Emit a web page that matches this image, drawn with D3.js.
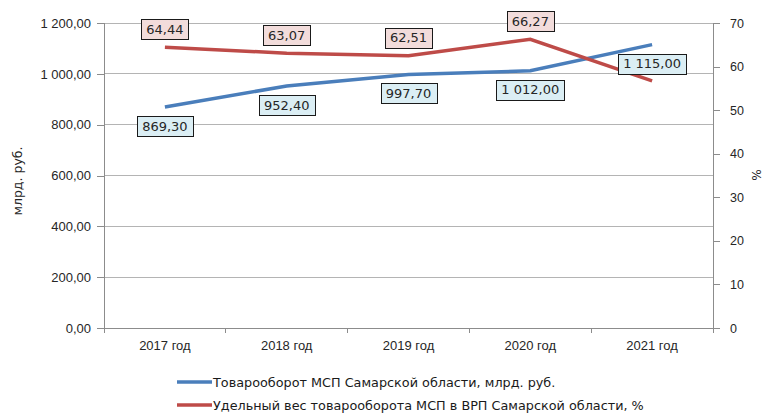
<!DOCTYPE html>
<html>
<head>
<meta charset="utf-8">
<script src="https://cdn.jsdelivr.net/npm/d3@7"></script>
<style>
  body { margin: 0; background: #fff; }
  svg { display: block; font-family: "DejaVu Sans", Verdana, sans-serif; }
</style>
</head>
<body>
<svg id="chart" width="764" height="414"></svg>
<script>
// data
const years = ["2017 год", "2018 год", "2019 год", "2020 год", "2021 год"]
const turnover = [869.30, 952.40, 997.70, 1012.00, 1115.00]
const share = [64.44, 63.07, 62.51, 66.27, 56.70]
// the 2021 share label sits under the 1 115,00 box in the original
const shareLabelShown = [true, true, true, true, false]
const leftTicks = [0, 200, 400, 600, 800, 1000, 1200]
const rightTicks = [0, 10, 20, 30, 40, 50, 60, 70]
const seriesNames = [
    "Товарооборот МСП Самарской области, млрд. руб.",
    "Удельный вес товарооборота МСП в ВРП Самарской области, %"
]

const blue = "#4a7ebb", red = "#be4b48"
const svg = d3.select("#chart")
const plotL = 104, plotR = 713, plotT = 23, plotB = 328

const ru = d3.formatLocale({ decimal: ",", thousands: " ", grouping: [3], currency: ["", ""] })
const fmt2 = ru.format(",.2f")

const x = d3.scaleBand().domain(years).range([plotL, plotR])
const yL = d3.scaleLinear().domain([0, 1200]).range([plotB, plotT])
const yR = d3.scaleLinear().domain([0, 70]).range([plotB, plotT])
const cx = (d) => x(d) + x.bandwidth() / 2

// grid
svg.append("g").selectAll("line")
    .data(leftTicks.slice(1))
    .enter().append("line")
    .attr("x1", plotL).attr("x2", plotR)
    .attr("y1", (d) => yL(d)).attr("y2", (d) => yL(d))
    .attr("stroke", "#b4b4b4").attr("stroke-width", 1)
    .attr("shape-rendering", "crispEdges")

// axes
let axL = svg.append("g").attr("transform", `translate(${plotL},0)`)
    .call(d3.axisLeft(yL).tickValues(leftTicks).tickFormat(fmt2).tickSize(7).tickPadding(6))
let axR = svg.append("g").attr("transform", `translate(${plotR},0)`)
    .call(d3.axisRight(yR).tickValues(rightTicks).tickFormat(d3.format("d")).tickSize(7).tickPadding(10))
let axX = svg.append("g").attr("transform", `translate(0,${plotB})`)
    .call(d3.axisBottom(x).tickSize(0).tickPadding(13))

axL.selectAll("text").style("font-size", "13px")
axR.selectAll("text").style("font-size", "12.5px")
axX.selectAll("text").style("font-size", "13px")
;[axL, axR, axX].forEach(function (a) {
    a.selectAll("path, line").attr("stroke", "#8c8c8c").attr("shape-rendering", "crispEdges")
    a.selectAll("text").attr("fill", "#262626")
})
axX.select(".domain").attr("d", `M${plotL},0H${plotR}`)

// category boundary ticks on x axis
svg.append("g").selectAll("line")
    .data(years.concat(["end"]))
    .enter().append("line")
    .attr("x1", (d) => d == "end" ? plotR : x(d))
    .attr("x2", (d) => d == "end" ? plotR : x(d))
    .attr("y1", plotB).attr("y2", plotB + 5)
    .attr("stroke", "#8c8c8c")
    .attr("shape-rendering", "crispEdges")

// axis titles
svg.append("text")
    .attr("transform", "translate(22,181) rotate(-90)")
    .attr("text-anchor", "middle")
    .style("font-size", "12.5px").attr("fill", "#262626")
    .text("млрд. руб.")
svg.append("text")
    .attr("transform", "translate(752,175) rotate(90)")
    .attr("text-anchor", "middle")
    .style("font-size", "12px").attr("fill", "#262626")
    .text("%")

// lines
let lineL = d3.line().x((d, i) => cx(years[i])).y((d) => yL(d))
let lineR = d3.line().x((d, i) => cx(years[i])).y((d) => yR(d))

svg.append("path").datum(turnover)
    .attr("d", lineL).attr("fill", "none")
    .attr("stroke", blue).attr("stroke-width", 3.5)
svg.append("path").datum(share)
    .attr("d", lineR).attr("fill", "none")
    .attr("stroke", red).attr("stroke-width", 3.5)

// data labels
function addLabels(values, shown, yScale, dy, fill) {
    let g = svg.append("g")
    values.forEach(function (v, i) {
        if (!shown[i]) return
        let lx = cx(years[i]), ly = yScale(v) + dy
        let lab = g.append("g")
        let box = lab.append("rect")
        let t = lab.append("text")
            .attr("x", lx).attr("y", ly)
            .attr("text-anchor", "middle").attr("dy", "0.36em")
            .style("font-size", "13px").attr("fill", "#262626")
            .text(fmt2(v))
        let w = t.node().getComputedTextLength() + 10
        box.attr("x", Math.round(lx - w / 2) + 0.5).attr("y", Math.round(ly - 10) + 0.5)
            .attr("width", Math.round(w)).attr("height", 20)
            .attr("fill", fill).attr("stroke", "#1a1a1a").attr("stroke-width", 1)
    })
}
addLabels(share, shareLabelShown, yR, -18, "#f2dcdb")
addLabels(turnover, turnover.map(() => true), yL, 19, "#dbeef4")

// legend
let legend = svg.append("g")
seriesNames.forEach(function (name, i) {
    let ly = 382 + i * 23
    legend.append("line")
        .attr("x1", 177).attr("x2", 212)
        .attr("y1", ly).attr("y2", ly)
        .attr("stroke", i == 0 ? blue : red).attr("stroke-width", 3.5)
    legend.append("text")
        .attr("x", 213).attr("y", ly).attr("dy", "0.36em")
        .style("font-size", "12.8px").attr("fill", "#1a1a1a")
        .text(name)
})
</script>
</body>
</html>
